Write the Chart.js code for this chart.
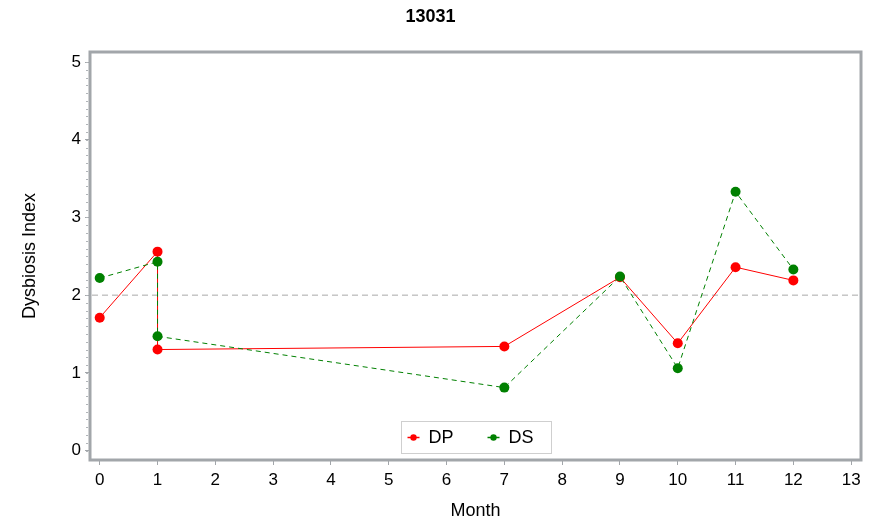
<!DOCTYPE html>
<html>
<head>
<meta charset="utf-8">
<script src="https://cdn.jsdelivr.net/npm/chart.js@4.4.0/dist/chart.umd.min.js"></script>
<style>
  html, body { margin:0; padding:0; background:#fff; }
  #wrap { width:874px; height:522px; }
</style>
</head>
<body>
<div id="wrap"><canvas id="chart" width="874" height="522"></canvas></div>
<script>
// data
const months  = [0, 1, 1, 7, 9, 10, 11, 12];
const dpValues = [1.71, 2.56, 1.30, 1.34, 2.23, 1.38, 2.36, 2.19];
const dsValues = [2.22, 2.43, 1.47, 0.81, 2.24, 1.06, 3.33, 2.33];
const xTicks = [0,1,2,3,4,5,6,7,8,9,10,11,12,13];
const yTicks = [0,1,2,3,4,5];
const refLine = 2;

const axisGray = '#a2a6aa';
const fontFam = '"Liberation Sans", Arial, sans-serif';

function toPoints(xs, ys){
    return xs.map((x,i)=>({x:x, y:ys[i]}));
}

// frame, minor ticks, reference line
const framePlugin = {
    id:'frame',
    beforeDatasetsDraw(chart){
        const {ctx, chartArea:a, scales:{y}} = chart;
        const yy = y.getPixelForValue(refLine);
        ctx.save();
        ctx.strokeStyle = '#a8a8a8';
        ctx.lineWidth = 1;
        ctx.setLineDash([6,4]);
        ctx.beginPath();
        ctx.moveTo(a.left+2, yy);
        ctx.lineTo(a.right-2, yy);
        ctx.stroke();
        ctx.restore();
    },
    afterDraw(chart){
        const {ctx, chartArea:a, scales:{y}} = chart;
        ctx.save();
        ctx.strokeStyle = axisGray;
        ctx.lineWidth = 3;
        ctx.strokeRect(a.left, a.top, a.right-a.left, a.bottom-a.top);
        // minor ticks on y
        ctx.lineWidth = 1;
        ctx.strokeStyle = '#b0b4b8';
        for(let v=0; v<=5.001; v+=0.1){
            const yy = Math.round(y.getPixelForValue(v))+0.5;
            ctx.beginPath();
            ctx.moveTo(a.left-2, yy);
            ctx.lineTo(a.left-4, yy);
            ctx.stroke();
        }
        ctx.restore();
    }
};

// legend drawn inside the plot, bottom centre
const insideLegend = {
    id:'insideLegend',
    afterDraw(chart){
        const {ctx, chartArea:a} = chart;
        const w = 150, h = 32;
        const x0 = Math.round((a.left+a.right)/2 - w/2)+0.5;
        const y0 = Math.round(a.bottom - 7 - h)+0.5;
        ctx.save();
        ctx.fillStyle = '#fff';
        ctx.fillRect(x0, y0, w, h);
        ctx.strokeStyle = '#cfcfcf';
        ctx.lineWidth = 1;
        ctx.strokeRect(x0, y0, w, h);
        ctx.font = '18px ' + fontFam;
        ctx.textBaseline = 'middle';
        const items = [...chart.data.datasets].sort((p,q)=>p.legendIndex-q.legendIndex);
        items.forEach((ds,i)=>{
            const lx = x0 + 6 + i*80;
            const ly = y0 + h/2;
            ctx.strokeStyle = ds.borderColor;
            ctx.setLineDash([]);
            ctx.lineWidth = 1.5;
            ctx.beginPath();
            ctx.moveTo(lx, ly);
            ctx.lineTo(lx+12, ly);
            ctx.stroke();
            ctx.fillStyle = ds.pointBackgroundColor;
            ctx.beginPath();
            ctx.arc(lx+6, ly, 3.2, 0, Math.PI*2);
            ctx.fill();
            ctx.fillStyle = '#000';
            ctx.fillText(ds.label, lx+21, ly+1);
        });
        ctx.restore();
    }
};

const chart = new Chart(document.getElementById('chart'), {
    type:'scatter',
    data:{
        datasets:[
            {
                label:'DP', legendIndex:0, order:1,
                data:toPoints(months, dpValues),
                showLine:true,
                borderColor:'#ff0000', backgroundColor:'#ff0000',
                pointBackgroundColor:'#ff0000', pointBorderColor:'#ff0000',
                borderWidth:1, pointRadius:5, pointBorderWidth:0
            },
            {
                label:'DS', legendIndex:1, order:0,
                data:toPoints(months, dsValues),
                showLine:true,
                borderColor:'#008000', backgroundColor:'#008000',
                pointBackgroundColor:'#008000', pointBorderColor:'#008000',
                borderWidth:1, borderDash:[5,4], pointRadius:5, pointBorderWidth:0
            }
        ]
    },
    options:{
        responsive:false,
        animation:false,
        events:[],
        layout:{padding:{left:0, right:13, top:0, bottom:0}},
        plugins:{
            legend:{display:false},
            tooltip:{enabled:false},
            title:{
                display:true, text:'13031', color:'#000',
                font:{family:fontFam, size:18, weight:'bold'},
                padding:{top:6, bottom:24.4}
            }
        },
        scales:{
            x:{
                type:'linear', min:-0.168, max:13.17,
                afterBuildTicks(s){ s.ticks = xTicks.map(v=>({value:v})); },
                afterFit(s){ s.height = 62; },
                grid:{display:true, drawOnChartArea:false, drawTicks:true, tickLength:5, color:axisGray, tickColor:axisGray},
                border:{display:false},
                ticks:{color:'#000', padding:5, maxRotation:0, font:{family:fontFam, size:17}},
                title:{display:true, text:'Month', color:'#000', font:{family:fontFam, size:18}, padding:{top:0, bottom:0}}
            },
            y:{
                type:'linear', min:-0.122, max:5.13,
                afterBuildTicks(s){ s.ticks = yTicks.map(v=>({value:v})); },
                afterFit(s){ s.width = 90; },
                grid:{display:true, drawOnChartArea:false, drawTicks:true, tickLength:5, color:axisGray, tickColor:axisGray},
                border:{display:false},
                ticks:{color:'#000', padding:4, font:{family:fontFam, size:17}},
                title:{display:true, text:'Dysbiosis Index', color:'#000', font:{family:fontFam, size:18}, padding:{top:19, bottom:0}}
            }
        }
    },
    plugins:[framePlugin, insideLegend]
});
</script>
</body>
</html>
